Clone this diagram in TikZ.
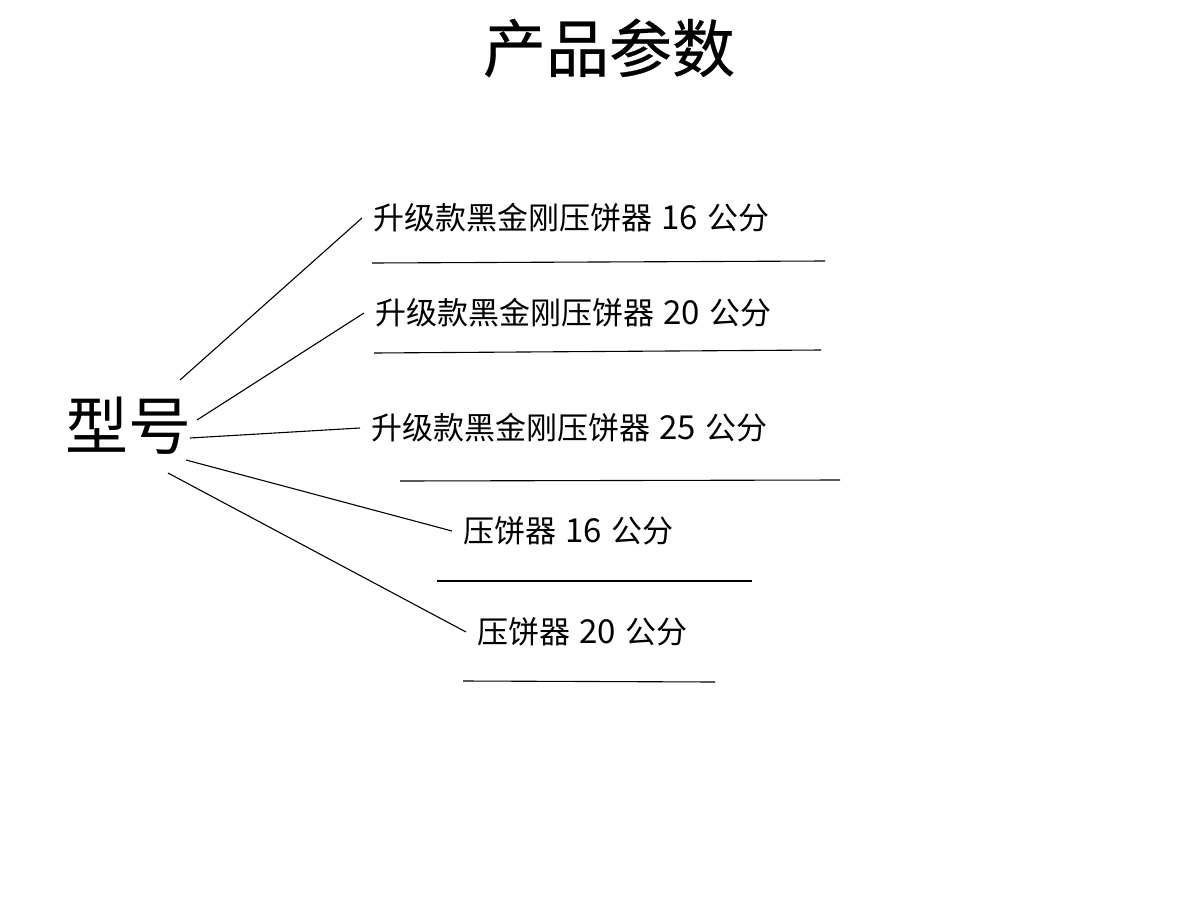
\documentclass[tikz,border=0pt]{standalone}
\usepackage{fontspec}
\setmainfont{Noto Sans CJK SC}
\usetikzlibrary{positioning}
\newcommand\labfont{\fontsize{31}{33}\selectfont\spaceskip=0.3em plus 0pt minus 0pt\relax}

\begin{document}
\begin{tikzpicture}[x=1pt,y=-1pt,
    itemlab/.style={anchor=west,inner sep=11pt,font=\labfont},
    uline/.style={line width=1.1pt},
    spoke/.style={line width=1.1pt}]
  \useasboundingbox (0,0) rectangle (1199,899);
  % title and hub
  \node (title) at (609,48) {\fontsize{63}{65}\selectfont\addfontfeatures{FakeBold=0.4}产品参数};
  \node (hub) at (128,426) {\fontsize{63}{65}\selectfont 型号};
  % model labels
  \node[itemlab] (lab1) at (362,218) {升级款黑金刚压饼器 {\fontsize{33}{33}\selectfont 16} 公分};
  \node[itemlab] (lab2) at (364,313) {升级款黑金刚压饼器 {\fontsize{33}{33}\selectfont 20} 公分};
  \node[itemlab] (lab3) at (360,428) {升级款黑金刚压饼器 {\fontsize{33}{33}\selectfont 25} 公分};
  \node[itemlab] (lab4) at (452,531) {压饼器 {\fontsize{33}{33}\selectfont 16} 公分};
  \node[itemlab] (lab5) at (466,632) {压饼器 {\fontsize{33}{33}\selectfont 20} 公分};
  % spoke starts
  \coordinate (h1) at (180,380);
  \coordinate (h2) at (197,420);
  \coordinate (h3) at (190,438);
  \coordinate (h4) at (186,460);
  \coordinate (h5) at (168,473);
  \draw[spoke] (h1) -- (lab1.west);
  \draw[spoke] (h2) -- (lab2.west);
  \draw[spoke] (h3) -- (lab3.west);
  \draw[spoke] (h4) -- (lab4.west);
  \draw[spoke] (h5) -- (lab5.west);
  % underlines
  \coordinate (u1a) at (372,263); \coordinate (u1b) at (825,261);
  \coordinate (u2a) at (374,353); \coordinate (u2b) at (821,350);
  \coordinate (u3a) at (400,481); \coordinate (u3b) at (840,480);
  \coordinate (u4a) at (437,581); \coordinate (u4b) at (752,581);
  \coordinate (u5a) at (463,681); \coordinate (u5b) at (715,682);
  \foreach \i in {1,...,5}
    \draw[uline] (u\i a) -- (u\i b);
\end{tikzpicture}
\end{document}
